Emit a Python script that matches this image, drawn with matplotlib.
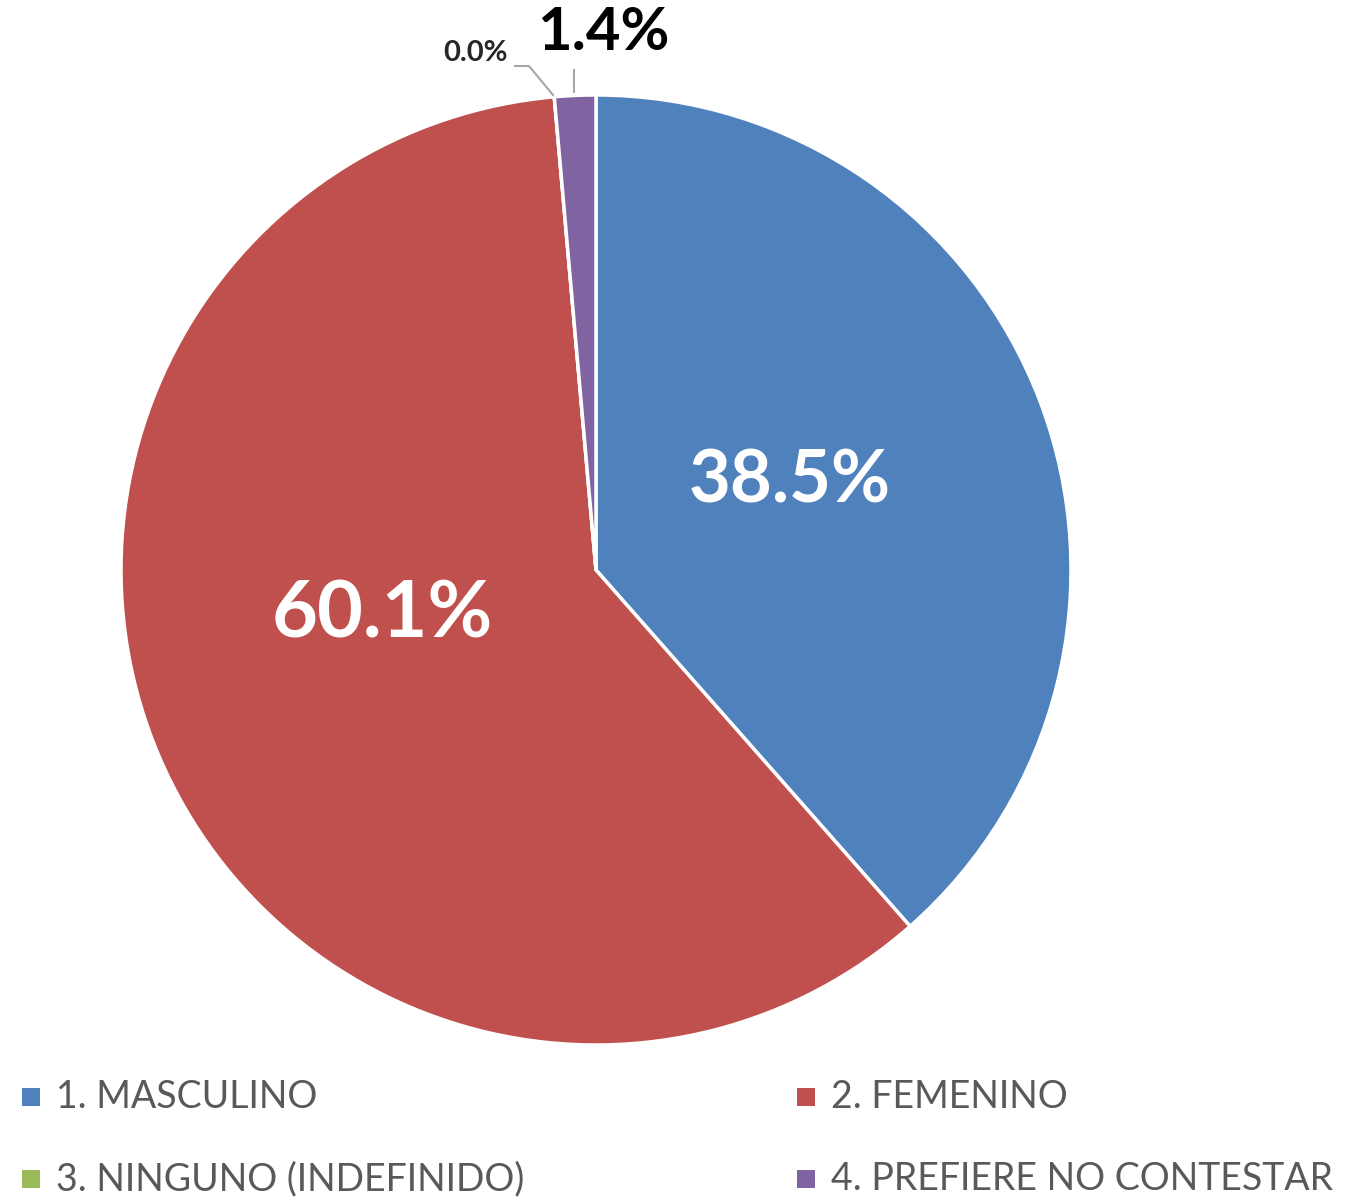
import matplotlib
matplotlib.use("Agg")
import matplotlib.pyplot as plt
from matplotlib.patches import Rectangle

# Data
categories = ["1. MASCULINO", "2. FEMENINO", "3. NINGUNO (INDEFINIDO)", "4. PREFIERE NO CONTESTAR"]
values = [38.5, 60.1, 0.0, 1.4]
colors = ["#4F81BD", "#C0504D", "#9BBB59", "#8064A2"]

plt.rcParams["font.family"] = ["Lato", "DejaVu Sans"]

W, H = 1348, 1202
fig = plt.figure(figsize=(W / 100, H / 100), dpi=100)
ax = fig.add_axes([0, 0, 1, 1])

cx, cy, r = 596, -570, 475
wedges, _ = ax.pie(values, colors=colors, startangle=90, counterclock=False,
                   center=(cx, cy), radius=r, frame=True,
                   wedgeprops=dict(edgecolor="white", linewidth=2.5))
ax.set_xlim(0, W)
ax.set_ylim(-H, 0)
ax.set_aspect("equal")
ax.axis("off")

# data labels
ax.text(790, -482, f"{values[0]:.1f}%", color="white", fontsize=52,
        fontweight="bold", ha="center", va="center")
ax.text(382, -616, f"{values[1]:.1f}%", color="white", fontsize=57,
        fontweight="bold", ha="center", va="center")
ax.text(603, -33, f"{values[3]:.1f}%", color="black", fontsize=43,
        fontweight="bold", ha="center", va="center")
ax.text(476, -53, f"{values[2]:.1f}%", color="#262626", fontsize=21,
        fontweight="bold", ha="center", va="center")

# leader lines
ax.plot([515, 529, 553], [-66, -66, -95], color="#A6A6A6", lw=1.5)
ax.plot([574, 574], [-70, -92], color="#A6A6A6", lw=1.5)

# legend (2 columns, row-major)
pos = [(22, -1097), (797, -1097), (22, -1179), (797, -1179)]
for (x, y), lab, col in zip(pos, categories, colors):
    ax.add_patch(Rectangle((x, y - 9), 18, 18, facecolor=col, edgecolor="none"))
    ax.text(x + 34, y, lab, fontsize=27, color="#595959", ha="left", va="center")

fig.savefig("out.png", dpi=100)
